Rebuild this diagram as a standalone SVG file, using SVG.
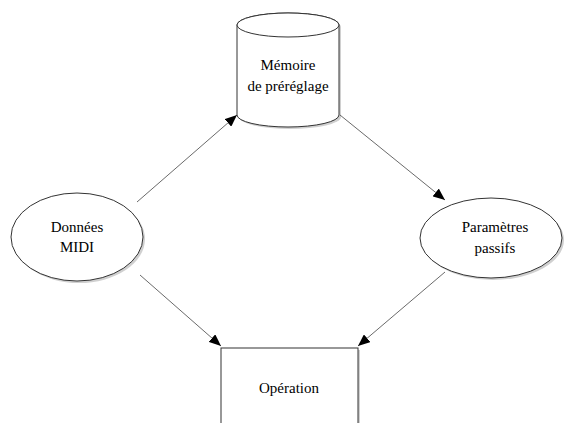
<svg xmlns="http://www.w3.org/2000/svg" width="565" height="423" viewBox="0 0 565 423">
<style>
.shape{fill:#fff;stroke:#333;stroke-width:1}
.shadow{fill:#d0d0d0;stroke:none}
.lbl{font-family:"Liberation Serif","Times New Roman",serif;font-size:15px;fill:#000;text-anchor:middle}
.edge{stroke:#444;stroke-width:0.8;fill:none;marker-end:url(#arr)}
</style>
<defs>
<marker id="arr" viewBox="0 0 12 10" refX="12" refY="5" markerWidth="12" markerHeight="10" markerUnits="userSpaceOnUse" orient="auto">
<path d="M0,0 L12,5 L0,10 z" fill="#000"/>
</marker>
</defs>
<rect width="565" height="423" fill="#fff"/>
<g id="memoire">
<path class="shadow" d="M239,27 L239,117 A51,12 0 0 0 341,117 L341,27 A51,12 0 0 0 239,27 z"/>
<path class="shape" d="M237,25 L237,115 A51,12 0 0 0 339,115 L339,25 A51,12 0 0 0 237,25 z"/>
<ellipse class="shape" cx="288" cy="25" rx="51" ry="12"/>
<text class="lbl" x="288" y="70">Mémoire</text>
<text class="lbl" x="288" y="91">de préréglage</text>
</g>
<g id="donnees">
<ellipse class="shadow" cx="79" cy="239" rx="66" ry="44"/>
<ellipse class="shape" cx="77" cy="237" rx="66" ry="44"/>
<text class="lbl" x="77" y="232">Données</text>
<text class="lbl" x="77" y="252">MIDI</text>
</g>
<g id="parametres">
<ellipse class="shadow" cx="493" cy="240" rx="71" ry="40"/>
<ellipse class="shape" cx="491" cy="238" rx="71" ry="40"/>
<text class="lbl" x="495" y="232">Paramètres</text>
<text class="lbl" x="495" y="253">passifs</text>
</g>
<g id="operation">
<rect class="shadow" x="223" y="350" width="137" height="80"/>
<rect class="shape" x="221" y="348" width="137" height="80"/>
<text class="lbl" x="289" y="393">Opération</text>
</g>
<g id="connectors">
<line class="edge" x1="137" y1="202" x2="237" y2="115"/>
<line class="edge" x1="340" y1="115" x2="445" y2="200"/>
<line class="edge" x1="140" y1="275" x2="221" y2="346"/>
<line class="edge" x1="445" y1="272" x2="358" y2="346"/>
</g>
</svg>
